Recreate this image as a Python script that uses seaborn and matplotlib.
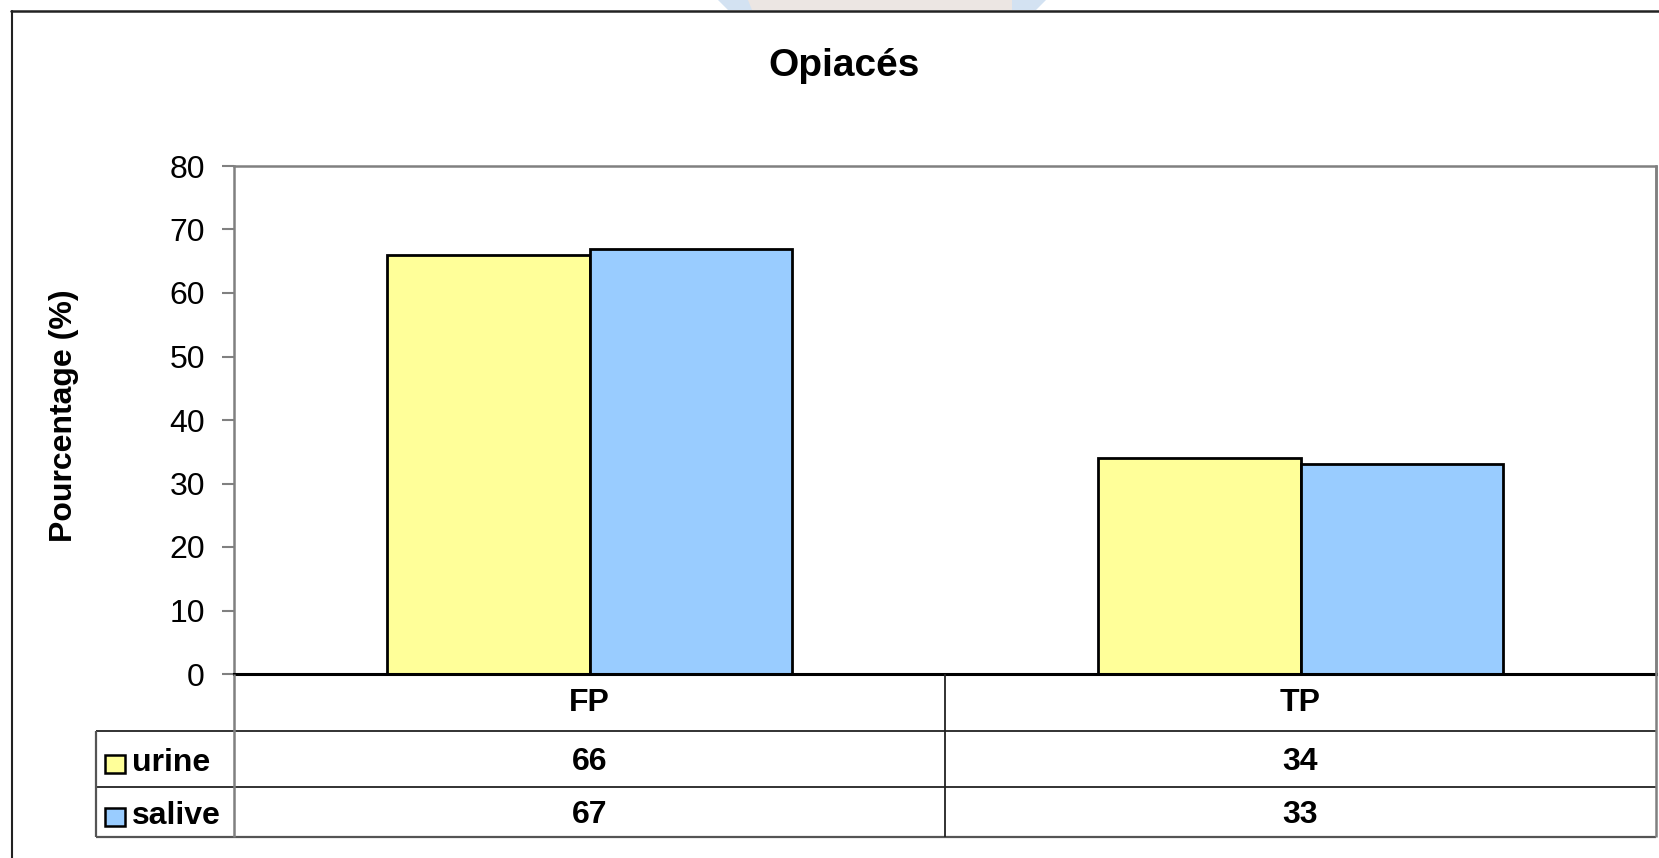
import matplotlib
matplotlib.use("Agg")
import matplotlib.pyplot as plt
import matplotlib.transforms as mtransforms
from matplotlib.lines import Line2D
from matplotlib.patches import Rectangle, Polygon
import seaborn as sns
import pandas as pd

# ---- data ----
categories = ["FP", "TP"]
series_names = ["urine", "salive"]
urine_values = [66, 34]
salive_values = [67, 33]
y_ticks = [0, 10, 20, 30, 40, 50, 60, 70, 80]
title_text = "Opiacés"
ylabel_text = "Pourcentage (%)"

colors = ["#FFFF99", "#99CCFF"]

df = pd.DataFrame({
    "cat": categories * 2,
    "serie": [series_names[0]] * len(categories) + [series_names[1]] * len(categories),
    "val": urine_values + salive_values,
})

sns.set_style("white")
plt.rcParams["font.family"] = ["Liberation Sans", "DejaVu Sans"]
plt.rcParams["text.color"] = "black"
plt.rcParams["axes.labelcolor"] = "black"
plt.rcParams["xtick.color"] = "black"
plt.rcParams["ytick.color"] = "black"

W, H = 1659, 858
fig = plt.figure(figsize=(W / 100, H / 100), dpi=100)


def fx(x):
    return x / W


def fy(y):
    return 1 - y / H


L, R, T, B = 234, 1656, 166, 674
ax = fig.add_axes([fx(L), fy(B), fx(R) - fx(L), fy(T) - fy(B)])

sns.barplot(data=df, x="cat", y="val", hue="serie", hue_order=series_names,
            order=categories, palette=colors, width=0.57, gap=0,
            edgecolor="black", linewidth=2.0, saturation=1, legend=False, ax=ax)

ax.set_xlim(-0.5, len(categories) - 0.5)
ax.set_ylim(0, 80)
ax.set_yticks(y_ticks)
ax.set_yticklabels([str(v) for v in y_ticks], fontsize=23, color="black")
ax.set_xlabel("")
ax.set_ylabel("")
ax.tick_params(axis="x", length=0, labelbottom=False)
ax.tick_params(axis="y", length=9, width=1.5, color="#808080", labelcolor="black",
               pad=12, left=True)
for s in ["left", "top", "right"]:
    ax.spines[s].set_visible(True)
    ax.spines[s].set_color("#808080")
    ax.spines[s].set_linewidth(1.8)
ax.spines["bottom"].set_color("black")
ax.spines["bottom"].set_linewidth(2.2)
ax.grid(False)

# ---- title and y label ----
fig.text(fx(843.7), fy(76), title_text, ha="center", va="baseline",
         fontsize=28, fontweight="bold", color="black")
fig.text(fx(64), fy(416), ylabel_text, ha="center", va="center", rotation=90,
         fontsize=23, fontweight="bold", color="black")

# ---- data table ----
line_col = "#222222"


def hline(x0, x1, y, lw=1.3, c=line_col):
    fig.add_artist(Line2D([fx(x0), fx(x1)], [fy(y), fy(y)], transform=fig.transFigure,
                          color=c, lw=lw, solid_capstyle="butt"))


def vline(x, y0, y1, lw=1.3, c=line_col):
    fig.add_artist(Line2D([fx(x), fx(x)], [fy(y0), fy(y1)], transform=fig.transFigure,
                          color=c, lw=lw, solid_capstyle="butt"))


hline(96, R, 731)
hline(97, R, 787)
hline(96, R, 837, lw=1.6, c="#555555")
vline(L, B, 837, lw=1.8, c="#808080")
vline(945, B, 837)
vline(R, T, 837, lw=1.8, c="#808080")
vline(96, 731, 837, lw=1.6, c="#555555")

blend = mtransforms.blended_transform_factory(ax.transData, fig.transFigure)
for i, cat in enumerate(categories):
    ax.text(i, fy(711), cat, transform=blend, ha="center", va="baseline",
            fontsize=23, fontweight="bold", color="black", clip_on=False)

row_baselines = [769.5, 823]
label_baselines = [771, 824]
key_tops = [755, 808]
all_vals = [urine_values, salive_values]
for r, name in enumerate(series_names):
    for i in range(len(categories)):
        ax.text(i, fy(row_baselines[r]), str(all_vals[r][i]), transform=blend,
                ha="center", va="baseline", fontsize=23, fontweight="bold",
                color="black", clip_on=False)
    fig.add_artist(Rectangle((fx(105), fy(key_tops[r] + 18)), fx(20), 18 / H,
                             transform=fig.transFigure, facecolor=colors[r],
                             edgecolor="black", lw=1.8))
    fig.text(fx(132), fy(label_baselines[r]), name, ha="left", va="baseline",
             fontsize=23, fontweight="bold", color="black")

# ---- outer chart frame ----
fig.add_artist(Line2D([fx(11), fx(W + 5)], [fy(11), fy(11)], transform=fig.transFigure,
                      color="#222222", lw=1.8))
fig.add_artist(Line2D([fx(11.5), fx(11.5)], [fy(11), fy(H + 5)], transform=fig.transFigure,
                      color="#222222", lw=1.5))

# faint watermark remnants at the very top
fig.add_artist(Rectangle((fx(748), fy(10)), fx(1012 - 748), 10 / H,
                         transform=fig.transFigure, facecolor="#ECE6E3",
                         edgecolor="none", zorder=0))
fig.add_artist(Polygon([(fx(718), fy(0)), (fx(748), fy(0)), (fx(752), fy(10)), (fx(728), fy(10))],
                       closed=True, transform=fig.transFigure, facecolor="#D3E2F2",
                       edgecolor="none", zorder=0))
fig.add_artist(Polygon([(fx(1012), fy(0)), (fx(1046), fy(0)), (fx(1036), fy(10)), (fx(1012), fy(10))],
                       closed=True, transform=fig.transFigure, facecolor="#D3E2F2",
                       edgecolor="none", zorder=0))

fig.savefig("out.png", dpi=100, facecolor="white")
